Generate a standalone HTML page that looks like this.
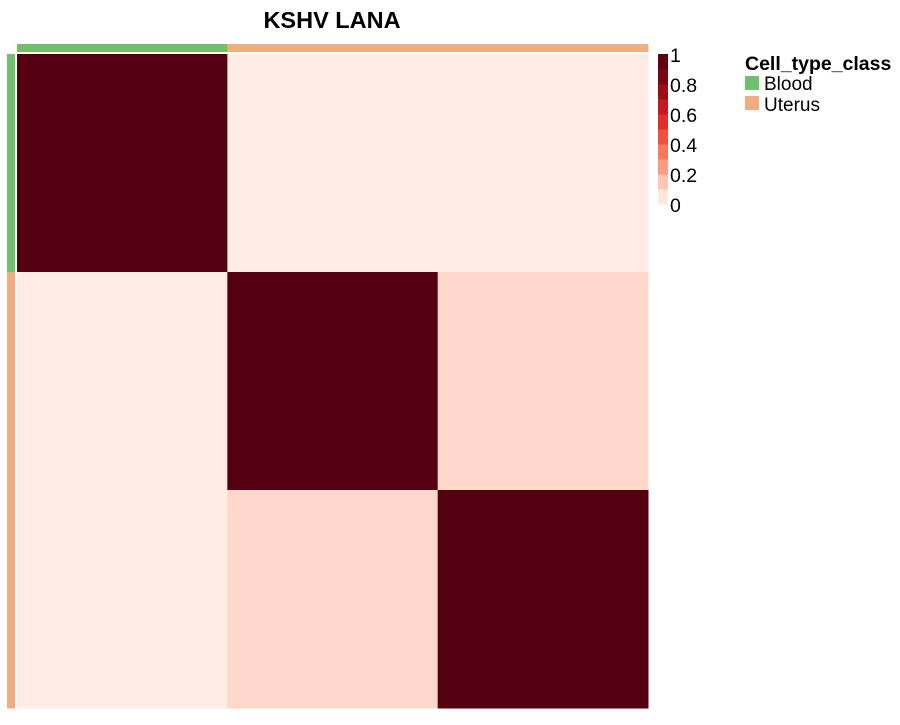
<!DOCTYPE html>
<html><head><meta charset="utf-8"><style>
body{margin:0;background:#fff;font-family:"Liberation Sans",Arial,sans-serif;}
svg text{font-family:"Liberation Sans",Arial,sans-serif;}
</style></head><body>
<svg id="chart" width="900" height="720" xmlns="http://www.w3.org/2000/svg">
<text x="332" y="28" text-anchor="middle" font-size="23.5" font-weight="bold">KSHV LANA</text>
<g id="cells"></g>
<g id="annots"></g>
<g id="cbar"></g>
<g>
<text x="745" y="70" font-size="19.5" font-weight="bold">Cell_type_class</text>
<rect x="745" y="76" width="14" height="14" fill="#6fc06d"/>
<text x="764" y="90" font-size="19">Blood</text>
<rect x="745" y="96" width="14" height="14" fill="#f0ae80"/>
<text x="764" y="111" font-size="19">Uterus</text>
</g>
</svg>
<script>
const samples = ["S1","S2","S3"];
const cellTypes = ["Blood","Uterus","Uterus"];
const values = [[1,0.035,0.035],[0.035,1,0.105],[0.035,0.105,1]];
const legendTicks = [0,0.2,0.4,0.6,0.8,1];
const typeColors = {Blood:"#6fc06d",Uterus:"#f0ae80"};
const stops = ["#fff5f0","#fdd9cb","#fcb09a","#fb8a6c","#f8644a","#eb3a2f","#d81f26","#b2101a","#8b0a14","#6a0010","#550010"];
const X0=17,X1=648,Y0=54,Y1=708;
const cw=(X1-X0)/samples.length, ch=(Y1-Y0)/samples.length;
function hex(h){return [1,3,5].map(i=>parseInt(h.substr(i,2),16));}
function color(v){v=Math.max(0,Math.min(1,v));const p=v*(stops.length-1);const i=Math.min(Math.floor(p),stops.length-2);const t=p-i;const a=hex(stops[i]),b=hex(stops[i+1]);return "rgb("+a.map((x,k)=>Math.round(x+(b[k]-x)*t)).join(",")+")";}
const NS="http://www.w3.org/2000/svg";
function mk(tag,attrs,parent){const e=document.createElementNS(NS,tag);for(const k in attrs)e.setAttribute(k,attrs[k]);parent.appendChild(e);return e;}
const cells=document.getElementById("cells");
values.forEach((row,r)=>row.forEach((v,c)=>{
 const e=mk("rect",{x:X0+c*cw,y:Y0+r*ch,width:cw+0.5,height:ch+0.5,fill:color(v)},cells);
 
 
}));
const an=document.getElementById("annots");
cellTypes.forEach((t,i)=>{
 const a=mk("rect",{x:X0+i*cw,y:44,width:cw+0.5,height:8,fill:typeColors[t]},an);
 
 
 const b=mk("rect",{x:7,y:Y0+i*ch,width:8,height:ch+0.5,fill:typeColors[t]},an);
 
 
});
const cb=document.getElementById("cbar");
const CB0=54,CB1=204,nseg=10;
for(let i=0;i<nseg;i++){
 const s=mk("rect",{x:658,y:CB1-(i+1)*(CB1-CB0)/nseg,width:10,height:(CB1-CB0)/nseg+0.5,fill:color((i+0.5)/nseg)},cb);
 
 
}
legendTicks.forEach(t=>{
 const y=CB1-t*(CB1-CB0)+2;
 const tx=mk("text",{x:670,y:y+6,"font-size":19.5},cb);
 tx.textContent=String(t);
 
 
});
</script>
</body></html>
